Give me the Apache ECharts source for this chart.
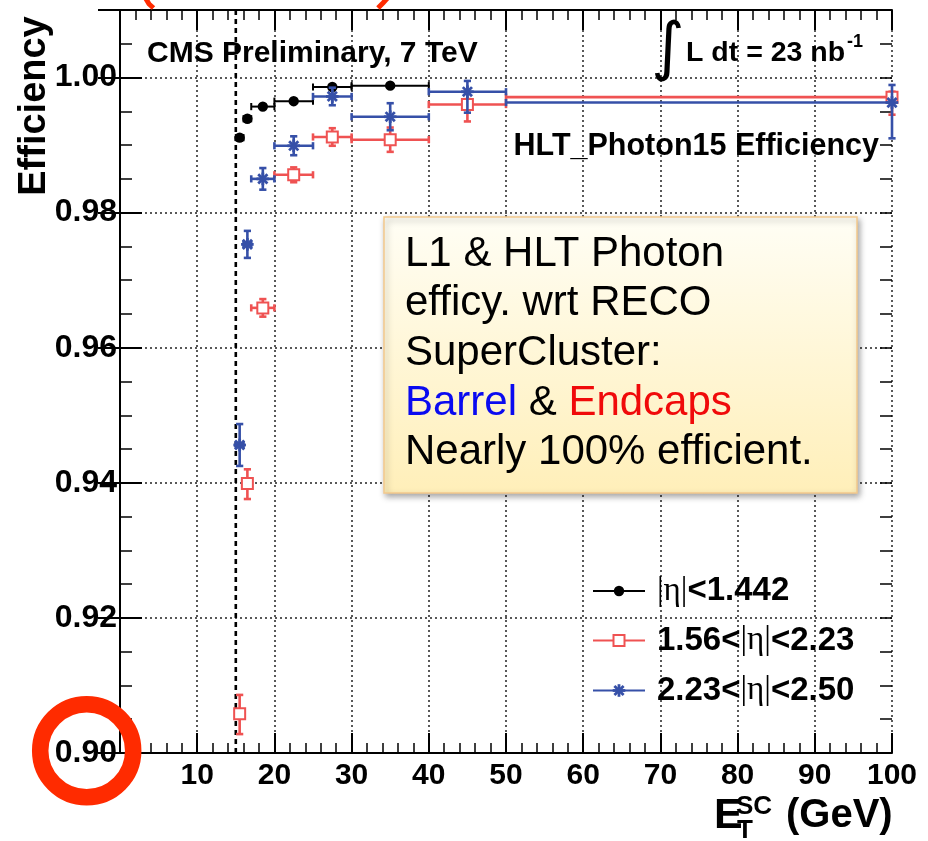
<!DOCTYPE html>
<html><head><meta charset="utf-8">
<script src="https://cdn.jsdelivr.net/npm/echarts@6/dist/echarts.min.js"></script>
<style>html,body{margin:0;padding:0;background:#fff}#c{width:928px;height:841px}</style>
</head><body><div id="c"></div>
<script>
// ---------------- data ----------------
const seriesNames = ['|η|<1.442', '1.56<|η|<2.23', '2.23<|η|<2.50'];
const binCenters = [15.5, 16.5, 18.5, 22.5, 27.5, 35, 45, 100];
const binLow     = [15, 16, 17, 20, 25, 30, 40, 50];
const binHigh    = [16, 17, 20, 25, 30, 40, 50, 100];
// |eta|<1.442 (first 6 bins only)
const effA    = [0.9911, 0.9939, 0.9957, 0.9965, 0.9986, 0.9988];
const errALo  = [0.0004, 0.0003, 0.0003, 0.0002, 0.0002, 0.0002];
const errAHi  = [0.0004, 0.0003, 0.0003, 0.0002, 0.0002, 0.0002];
// 1.56<|eta|<2.23
const effB    = [0.9058, 0.9399, 0.9659, 0.9856, 0.9912, 0.9908, 0.9960, 0.9971];
const errBLo  = [0.0030, 0.0023, 0.0013, 0.0011, 0.0013, 0.0018, 0.0025, 0.0026];
const errBHi  = [0.0028, 0.0021, 0.0013, 0.0011, 0.0013, 0.0018, 0.0008, 0.0008];
// 2.23<|eta|<2.50
const effC    = [0.9456, 0.9753, 0.9850, 0.9899, 0.9972, 0.9942, 0.9979, 0.9963];
const errCLo  = [0.0031, 0.0020, 0.0016, 0.0014, 0.0013, 0.0020, 0.0031, 0.0053];
const errCHi  = [0.0031, 0.0020, 0.0016, 0.0014, 0.0013, 0.0020, 0.0016, 0.0026];
const thresholdX = [15];
const xRange = [0, 100];
const yRange = [0.90, 1.01];
const yLabelStep = 0.02;
const yMinorStep = 0.005;
const xLabelStep = 10;

const noteLines = ['L1 & HLT Photon', 'efficy. wrt RECO', 'SuperCluster:', '{b|Barrel} & {r|Endcaps}', 'Nearly 100% efficient.'];

// ---------------- style ----------------
const FF = '"Liberation Sans", Arial, Helvetica, sans-serif';
const colors = ['#000000', '#EF5252', '#3650A8'];
const kinds = ['circle', 'square', 'star'];

function buildData(eff, lo, hi) {
  return eff.map((v, i) => [binCenters[i], v, binLow[i], binHigh[i], lo[i], hi[i]]);
}

function markerShapes(kind, color, cx, cy) {
  if (kind === 'circle') {
    return [{ type: 'circle', shape: { cx, cy, r: 5.2 }, style: { fill: color } }];
  }
  if (kind === 'square') {
    return [{ type: 'rect', shape: { x: cx - 5.5, y: cy - 5.5, width: 11, height: 11 }, style: { fill: '#fff', stroke: color, lineWidth: 2 } }];
  }
  const s = 6.3, d = 4.6, st = { stroke: color, lineWidth: 2.8 };
  return [
    { type: 'line', shape: { x1: cx - s, y1: cy, x2: cx + s, y2: cy }, style: st },
    { type: 'line', shape: { x1: cx, y1: cy - s, x2: cx, y2: cy + s }, style: st },
    { type: 'line', shape: { x1: cx - d, y1: cy - d, x2: cx + d, y2: cy + d }, style: st },
    { type: 'line', shape: { x1: cx - d, y1: cy + d, x2: cx + d, y2: cy - d }, style: st }
  ];
}

function makeRender(kind, color, lw) {
  return function (params, api) {
    const x = api.value(0), y = api.value(1), xl = api.value(2), xh = api.value(3), el = api.value(4), eh = api.value(5);
    const p = api.coord([x, y]);
    const a = api.coord([xl, y]), b = api.coord([xh, y]);
    const u = api.coord([x, y + eh]), d = api.coord([x, y - el]);
    const c = 3.6;
    const st = { stroke: color, lineWidth: lw };
    const ch = [
      { type: 'line', shape: { x1: a[0], y1: a[1], x2: b[0], y2: b[1] }, style: st },
      { type: 'line', shape: { x1: a[0], y1: a[1] - c, x2: a[0], y2: a[1] + c }, style: st },
      { type: 'line', shape: { x1: b[0], y1: b[1] - c, x2: b[0], y2: b[1] + c }, style: st },
      { type: 'line', shape: { x1: u[0], y1: u[1], x2: d[0], y2: d[1] }, style: st },
      { type: 'line', shape: { x1: u[0] - c, y1: u[1], x2: u[0] + c, y2: u[1] }, style: st },
      { type: 'line', shape: { x1: d[0] - c, y1: d[1], x2: d[0] + c, y2: d[1] }, style: st }
    ];
    return { type: 'group', children: ch.concat(markerShapes(kind, color, p[0], p[1])) };
  };
}

const datasets = [buildData(effA, errALo, errAHi), buildData(effB, errBLo, errBHi), buildData(effC, errCLo, errCHi)];

const dotted = { color: '#222', width: 1.5, type: [2, 3] };
const G = { left: 120, top: 10, width: 772, height: 743 };

function yLab(v) {
  const k = Math.round((v - yRange[0]) / yLabelStep);
  if (Math.abs(v - (yRange[0] + k * yLabelStep)) < 1e-6 && v <= 1.0000001) return v.toFixed(2);
  return '';
}

// legend graphic
const legendRows = [591, 640.5, 690.5];
const legendGraphic = [];
seriesNames.forEach((n, i) => {
  const y = legendRows[i];
  legendGraphic.push({ type: 'line', shape: { x1: 593, y1: y, x2: 645, y2: y }, style: { stroke: colors[i], lineWidth: 2 }, z: 50 });
  markerShapes(kinds[i], colors[i], 619, y).forEach(s => { s.z = 51; legendGraphic.push(s); });
  const rt = n.replace('|η|', '{s||η|}').replace(/^([^{]+)\{/, '{t|$1}{').replace(/\}([^{}]+)$/, '}{t|$1}');
  legendGraphic.push({
    type: 'text', x: 657, y: y, z: 51,
    style: {
      text: rt, align: 'left', verticalAlign: 'middle', fill: '#000',
      rich: {
        t: { fontFamily: FF, fontWeight: 'bold', fontSize: 33, fill: '#000' },
        s: { fontFamily: '"Liberation Serif", "DejaVu Serif", serif', fontWeight: 'normal', fontSize: 33, fill: '#000' }
      }
    }
  });
});

const noteBaselines = [269, 318, 368, 418, 467];
const noteGraphic = [{
  type: 'rect', z: 40,
  shape: { x: 384, y: 217, width: 473, height: 276 },
  style: {
    fill: new echarts.graphic.LinearGradient(0, 0, 0, 1, [{ offset: 0, color: '#FFFEF5' }, { offset: 1, color: '#FFEFB9' }]),
    stroke: '#F3C98C', lineWidth: 1.5,
    shadowBlur: 6, shadowColor: 'rgba(0,0,0,0.35)', shadowOffsetX: 2, shadowOffsetY: 3
  }
}];
noteLines.forEach((t, i) => {
  noteGraphic.push({
    type: 'text', x: 405, y: noteBaselines[i] - 15, z: 41,
    style: {
      text: t, align: 'left', verticalAlign: 'middle', fill: '#000',
      fontFamily: FF, fontSize: 42, fontWeight: 'normal',
      rich: {
        b: { fill: '#0A0AF0', fontFamily: FF, fontSize: 42 },
        r: { fill: '#F00A0A', fontFamily: FF, fontSize: 42 }
      }
    }
  });
});

const textGraphic = [
  { type: 'text', x: 147, y: 54, z: 30, style: { text: 'CMS Preliminary, 7 TeV', fontFamily: FF, fontWeight: 'bold', fontSize: 30, fill: '#000', align: 'left', verticalAlign: 'middle' } },
  { type: 'text', x: 668, y: 51, z: 30, style: { text: '∫', fontFamily: '"DejaVu Sans", sans-serif', fontWeight: 'normal', fontSize: 64, fill: '#000', align: 'center', verticalAlign: 'middle' } },
  { type: 'text', x: 686, y: 53, z: 30, style: { text: 'L dt = 23 nb', fontFamily: FF, fontWeight: 'bold', fontSize: 28.5, fill: '#000', align: 'left', verticalAlign: 'middle' } },
  { type: 'text', x: 847, y: 42, z: 30, style: { text: '-1', fontFamily: FF, fontWeight: 'bold', fontSize: 18, fill: '#000', align: 'left', verticalAlign: 'middle' } },
  { type: 'text', x: 879, y: 147, z: 30, style: { text: 'HLT_Photon15 Efficiency', fontFamily: FF, fontWeight: 'bold', fontSize: 30.5, fill: '#000', align: 'right', verticalAlign: 'middle' } },
  { type: 'text', x: 35, y: 106, rotation: Math.PI / 2, z: 30, style: { text: 'Efficiency', fontFamily: FF, fontWeight: 'bold', fontSize: 38, fill: '#000', align: 'center', verticalAlign: 'middle' } },
  { type: 'text', x: 714, y: 816, z: 30, style: { text: 'E', fontFamily: FF, fontWeight: 'bold', fontSize: 43, fill: '#000', align: 'left', verticalAlign: 'middle' } },
  { type: 'text', x: 736, y: 807, z: 30, style: { text: 'SC', fontFamily: FF, fontWeight: 'bold', fontSize: 26, fill: '#000', align: 'left', verticalAlign: 'middle' } },
  { type: 'text', x: 737, y: 831, z: 30, style: { text: 'T', fontFamily: FF, fontWeight: 'bold', fontSize: 26, fill: '#000', align: 'left', verticalAlign: 'middle' } },
  { type: 'text', x: 786, y: 816, z: 30, style: { text: '(GeV)', fontFamily: FF, fontWeight: 'bold', fontSize: 40, fill: '#000', align: 'left', verticalAlign: 'middle' } }
];

const redMarks = [
  { type: 'circle', z: 100, shape: { cx: 86.7, cy: 750.8, r: 46.5 }, style: { fill: 'none', stroke: '#FF2B00', lineWidth: 16.5 } },
  { type: 'polyline', z: 100, shape: { points: [[145.5, -2], [149, 4], [153.5, 8]] }, style: { fill: 'none', stroke: '#FF2B00', lineWidth: 5 } },
  { type: 'polyline', z: 100, shape: { points: [[378, 8], [383, 3], [387.5, -2]] }, style: { fill: 'none', stroke: '#FF2B00', lineWidth: 5 } }
];

const axisLineStyle = { color: '#000', width: 2 };

const option = {
  animation: false,
  backgroundColor: '#fff',
  grid: [Object.assign({}, G), Object.assign({}, G)],
  xAxis: [
    {
      gridIndex: 0, type: 'value', position: 'bottom', min: xRange[0], max: xRange[1], interval: xLabelStep,
      axisLine: { show: true, lineStyle: axisLineStyle },
      axisTick: { show: true, inside: true, length: 20, lineStyle: { color: '#000', width: 2 } },
      minorTick: { show: true, splitNumber: 5, length: 10, lineStyle: { color: '#000', width: 1.5 } },
      axisLabel: { show: true, margin: 8, color: '#000', fontFamily: FF, fontWeight: 'bold', fontSize: 30, formatter: v => (v === 0 ? '' : String(v)) },
      splitLine: { show: true, lineStyle: dotted }
    },
    {
      gridIndex: 0, type: 'value', position: 'top', min: xRange[0], max: xRange[1], interval: xLabelStep,
      axisLine: { show: true, lineStyle: axisLineStyle },
      axisTick: { show: true, inside: true, length: 20, lineStyle: { color: '#000', width: 2 } },
      minorTick: { show: true, splitNumber: 5, length: 10, lineStyle: { color: '#000', width: 1.5 } },
      axisLabel: { show: false }, splitLine: { show: false }
    },
    { gridIndex: 1, type: 'value', show: false, min: xRange[0], max: xRange[1] }
  ],
  yAxis: [
    {
      gridIndex: 0, type: 'value', position: 'left', min: yRange[0], max: yRange[1], interval: yLabelStep,
      axisLine: { show: true, lineStyle: axisLineStyle },
      axisTick: { show: true, inside: true, length: 22, lineStyle: { color: '#000', width: 2 } },
      axisLabel: { show: true, margin: 3, color: '#000', fontFamily: FF, fontWeight: 'bold', fontSize: 32, formatter: yLab },
      splitLine: { show: true, lineStyle: dotted }
    },
    {
      gridIndex: 0, type: 'value', position: 'right', min: yRange[0], max: yRange[1], interval: yLabelStep,
      axisLine: { show: true, lineStyle: axisLineStyle },
      axisTick: { show: true, inside: true, length: 22, lineStyle: { color: '#000', width: 2 } },
      axisLabel: { show: false }, splitLine: { show: false }
    },
    {
      gridIndex: 1, type: 'value', position: 'left', min: yRange[0], max: yRange[1], interval: yMinorStep,
      axisLine: { show: false },
      axisTick: { show: true, inside: true, length: 12, lineStyle: { color: '#000', width: 1.5 } },
      axisLabel: { show: false }, splitLine: { show: false }
    },
    {
      gridIndex: 1, type: 'value', position: 'right', min: yRange[0], max: yRange[1], interval: yMinorStep,
      axisLine: { show: false },
      axisTick: { show: true, inside: true, length: 12, lineStyle: { color: '#000', width: 1.5 } },
      axisLabel: { show: false }, splitLine: { show: false }
    }
  ],
  series: [
    {
      type: 'custom', name: 'threshold', xAxisIndex: 0, yAxisIndex: 0, z: 3, silent: true, clip: false,
      data: thresholdX.map(v => [v]),
      renderItem: function (params, api) {
        const a = api.coord([api.value(0), yRange[0]]), b = api.coord([api.value(0), yRange[1]]);
        return { type: 'line', shape: { x1: a[0], y1: a[1], x2: b[0], y2: b[1] }, style: { stroke: '#000', lineWidth: 2.6, lineDash: [5, 4] } };
      }
    }
  ].concat(seriesNames.map((n, i) => ({
    type: 'custom', name: n, xAxisIndex: 0, yAxisIndex: 0, z: 5 + i, silent: true, clip: false,
    data: datasets[i],
    renderItem: makeRender(kinds[i], colors[i], i === 0 ? 2 : 2.6)
  }))),
  graphic: [].concat(noteGraphic, textGraphic, legendGraphic, redMarks)
};

const chart = echarts.init(document.getElementById('c'), null, { renderer: 'canvas' });
chart.setOption(option);
</script>
</body></html>
